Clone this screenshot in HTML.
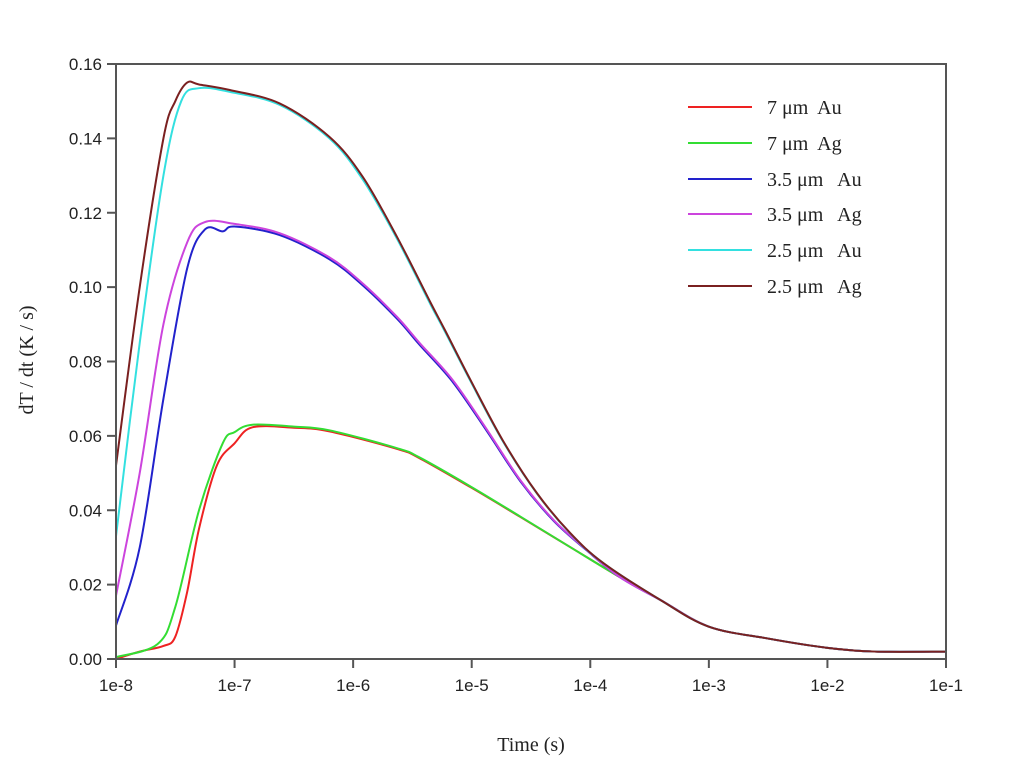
<!DOCTYPE html>
<html><head><meta charset="utf-8"><style>
body{margin:0;background:#fff;}
svg{display:block;}
.tk{font-family:"Liberation Sans",Arial,sans-serif;font-size:17px;fill:#222;}
.tt{font-family:"Liberation Serif","Times New Roman",serif;font-size:20px;fill:#222;}
</style></head><body>
<svg id="chart" width="1024" height="761"></svg>
<script>
const yTicks=[0,0.02,0.04,0.06,0.08,0.10,0.12,0.14,0.16];
const yTickLabels=["0.00","0.02","0.04","0.06","0.08","0.10","0.12","0.14","0.16"];
const xTicks=[-8,-7,-6,-5,-4,-3,-2,-1];
const xTickLabels=["1e-8","1e-7","1e-6","1e-5","1e-4","1e-3","1e-2","1e-1"];
const names=["7 \u03BCm  Au","7 \u03BCm  Ag","3.5 \u03BCm   Au","3.5 \u03BCm   Ag","2.5 \u03BCm   Au","2.5 \u03BCm   Ag"];
const colors=["#ee2222","#33dd33","#2222cc","#cc44dd","#33e0e0","#7a2020"];
const logT7Au=[-8,-7.8,-7.6,-7.5,-7.4,-7.3,-7.15,-7,-6.85,-6.5,-6.2,-5.63,-5.44,-5.01,-4.59,-4.17,-3.75,-3.41,-3,-2.5,-2,-1.6,-1];
const v7Au=[0,0.002,0.0035,0.006,0.018,0.035,0.052,0.058,0.0623,0.0622,0.0612,0.0565,0.054,0.0462,0.0382,0.0301,0.022,0.0159,0.0087,0.0055,0.003,0.002,0.002];
const logT7Ag=[-8,-7.65,-7.5,-7.3,-7.1,-7,-6.85,-6.5,-6.2,-5.63,-5.44,-5.01,-4.59,-4.17,-3.75,-3.41,-3,-2.5,-2,-1.6,-1];
const v7Ag=[0.0005,0.004,0.014,0.04,0.058,0.061,0.063,0.0625,0.0615,0.0567,0.0542,0.0464,0.0383,0.0301,0.022,0.0159,0.0087,0.0055,0.003,0.002,0.002];
const logT35Au=[-8,-7.8,-7.6,-7.4,-7.25,-7.1,-7,-6.62,-6.2,-5.92,-5.63,-5.44,-5.16,-4.87,-4.59,-4.31,-4.03,-3.75,-3.41,-3,-2.5,-2,-1.6,-1];
const v35Au=[0.009,0.03,0.07,0.105,0.1155,0.115,0.1163,0.114,0.1075,0.1005,0.0915,0.0845,0.0745,0.0612,0.0478,0.0372,0.0292,0.022,0.0159,0.0087,0.0055,0.003,0.002,0.002];
const logT35Ag=[-8,-7.8,-7.6,-7.4,-7.25,-7,-6.62,-6.2,-5.92,-5.63,-5.44,-5.16,-4.87,-4.59,-4.31,-4.03,-3.75,-3.41,-3,-2.5,-2,-1.6,-1];
const v35Ag=[0.017,0.05,0.09,0.112,0.1175,0.117,0.1145,0.108,0.101,0.092,0.085,0.075,0.0616,0.0481,0.0374,0.0293,0.022,0.0159,0.0087,0.0055,0.003,0.002,0.002];
const logT25Au=[-8,-7.8,-7.6,-7.45,-7.3,-7.04,-6.62,-6.2,-5.92,-5.63,-5.35,-5.225,-5.01,-4.74,-4.45,-4.17,-3.89,-3.41,-3,-2.5,-2,-1.6,-1];
const v25Au=[0.033,0.085,0.13,0.15,0.1535,0.1525,0.149,0.140,0.129,0.113,0.0955,0.088,0.0747,0.0587,0.0445,0.0338,0.0258,0.0159,0.0087,0.0055,0.003,0.002,0.002];
const logT25Ag=[-8,-7.8,-7.6,-7.5,-7.4,-7.3,-7.04,-6.62,-6.2,-5.92,-5.63,-5.35,-5.225,-5.01,-4.74,-4.45,-4.17,-3.89,-3.41,-3,-2.5,-2,-1.6,-1];
const v25Ag=[0.052,0.10,0.14,0.150,0.155,0.1545,0.153,0.1494,0.1404,0.1297,0.1135,0.096,0.0884,0.075,0.0589,0.0446,0.0339,0.0258,0.0159,0.0087,0.0055,0.003,0.002,0.002];
const seriesX=[logT7Au,logT7Ag,logT35Au,logT35Ag,logT25Au,logT25Ag];
const seriesY=[v7Au,v7Ag,v35Au,v35Ag,v25Au,v25Ag];

const L=116,R=946,T=64,B=659;
const xS=v=>L+(v+8)/7*(R-L);
const yS=v=>B-v/0.16*(B-T);
const svg=document.getElementById('chart');
const NS='http://www.w3.org/2000/svg';
function mk(tag,attrs,parent){const e=document.createElementNS(NS,tag);for(const k in attrs)e.setAttribute(k,attrs[k]);(parent||svg).appendChild(e);return e;}

seriesX.forEach((xs,i)=>{
  const pts=xs.map((x,j)=>[xS(x),yS(seriesY[i][j])]);
  let d='M'+pts[0][0]+','+pts[0][1];
  for(let j=0;j<pts.length-1;j++){
    const p0=pts[Math.max(j-1,0)],p1=pts[j],p2=pts[j+1],p3=pts[Math.min(j+2,pts.length-1)];
    const c1x=p1[0]+(p2[0]-p0[0])/6,c1y=p1[1]+(p2[1]-p0[1])/6;
    const c2x=p2[0]-(p3[0]-p1[0])/6,c2y=p2[1]-(p3[1]-p1[1])/6;
    d+=` C${c1x},${c1y} ${c2x},${c2y} ${p2[0]},${p2[1]}`;
  }
  const p=mk('path',{d:d,fill:'none',stroke:colors[i],'stroke-width':2});
  
  
});

const fr=mk('rect',{x:L,y:T,width:R-L,height:B-T,fill:'none',stroke:'#555','stroke-width':2});



yTicks.forEach((v,i)=>{
  const y=yS(v);
  const t=mk('line',{x1:L-9,x2:L,y1:y,y2:y,stroke:'#555','stroke-width':2});
  
  
  const lb=mk('text',{x:L-14,y:y+6,'text-anchor':'end',class:'tk'});
  lb.textContent=yTickLabels[i];
  
  
});
xTicks.forEach((v,i)=>{
  const x=xS(v);
  const t=mk('line',{x1:x,x2:x,y1:B,y2:B+9,stroke:'#555','stroke-width':2});
  
  
  const lb=mk('text',{x:x,y:B+32,'text-anchor':'middle',class:'tk'});
  lb.textContent=xTickLabels[i];
  
  
});

const xt=mk('text',{x:531,y:751,'text-anchor':'middle',class:'tt'});
xt.textContent='Time (s)';


const yt=mk('text',{x:0,y:0,'text-anchor':'middle',class:'tt',transform:'translate(33,360) rotate(-90)'});
yt.textContent='dT / dt (K / s)';



const legY=[107,143,179,214,250,286];
names.forEach((n,i)=>{
  const g=mk('g',{});
  
  
  mk('line',{x1:688,x2:752,y1:legY[i],y2:legY[i],stroke:colors[i],'stroke-width':2},g);
  const t=mk('text',{x:767,y:legY[i]+7,class:'tt'},g);
  t.setAttribute('style','white-space:pre');
  t.textContent=n;
});
</script>
</body></html>
